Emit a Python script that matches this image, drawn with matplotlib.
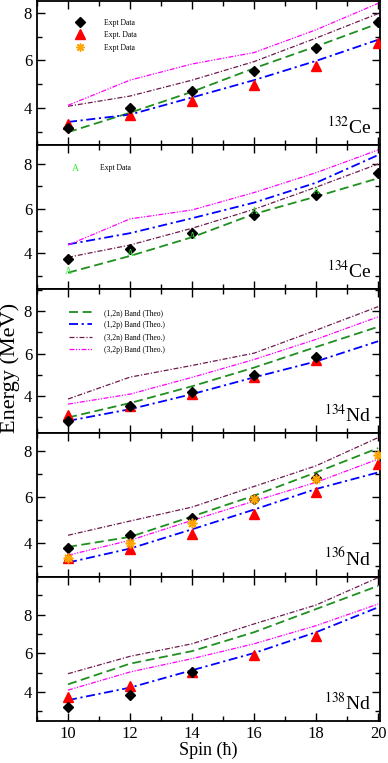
import numpy as np
import matplotlib.pyplot as plt
from matplotlib.ticker import MultipleLocator

plt.rcParams['font.family'] = ['Liberation Serif', 'DejaVu Serif']
plt.rcParams['mathtext.fontset'] = 'stix'

spin = [10, 12, 14, 16, 18, 20]

# 132Ce
ce132_diamond = [3.15, 4.01, 4.73, 5.57, 6.54, 7.63]
ce132_tri = [3.34, 3.69, 4.28, 4.98, 5.78, 6.73]
ce132_12n = [2.98, 3.80, 4.68, 5.67, 6.59, 7.55]
ce132_12p = [3.41, 3.72, 4.44, 5.17, 5.98, 6.87]
ce132_32n = [4.07, 4.50, 5.17, 5.95, 6.94, 7.97]
ce132_32p = [4.11, 5.17, 5.85, 6.33, 7.29, 8.40]

# 134Ce
ce134_diamond = [3.73, 4.19, 4.91, 5.72, 6.61, 7.61]
ce134_A = [3.18, 3.97, 4.75, 5.87, 6.76]
ce134_12n = [3.13, 3.88, 4.72, 5.76, 6.54, 7.36]
ce134_12p = [4.40, 4.90, 5.57, 6.27, 7.16, 8.40]
ce134_32n = [3.82, 4.37, 5.12, 5.97, 6.96, 8.00]
ce134_32p = [4.37, 5.54, 5.94, 6.72, 7.61, 8.63]

# 134Nd
nd134_diamond = [2.83, 3.54, 4.21, 5.00, 5.83]
nd134_tri = [3.10, 3.51, 4.09, 4.88, 5.72]
nd134_12n = [2.99, 3.67, 4.46, 5.34, 6.31, 7.26]
nd134_12p = [2.83, 3.38, 4.09, 4.88, 5.63, 6.58]
nd134_32n = [3.86, 4.89, 5.44, 6.02, 7.10, 8.21]
nd134_32p = [3.62, 4.09, 4.88, 5.72, 6.67, 7.73]

# 136Nd
nd136_diamond = [3.78, 4.32, 5.07, 5.88, 6.80]
nd136_tri = [3.34, 3.74, 4.39, 5.26, 6.22, 7.42]
nd136_star = [3.31, 4.00, 4.87, 5.88, 6.77, 7.81]
nd136_12n = [3.81, 4.25, 5.14, 6.05, 7.06, 8.12]
nd136_12p = [3.13, 3.74, 4.58, 5.44, 6.34, 7.06]
nd136_32n = [4.32, 4.94, 5.55, 6.45, 7.35, 8.58]
nd136_32p = [3.45, 4.10, 4.97, 5.81, 6.63, 7.64]

# 138Nd
nd138_diamond = [3.19, 3.83, 5.03]
nd138_tri = [3.74, 4.29, 5.03, 5.89, 6.88]
nd138_12n = [4.39, 5.46, 6.11, 7.09, 8.29, 9.49]
nd138_12p = [3.57, 4.22, 5.12, 6.01, 7.09, 8.38]
nd138_32n = [4.94, 5.84, 6.49, 7.52, 8.50, 9.92]
nd138_32p = [4.09, 5.03, 5.72, 6.49, 7.43, 8.55]

labels = ['132', '134', '134', '136', '138']
elems = ['Ce', 'Ce', 'Nd', 'Nd', 'Nd']
ylims = [(2.44, 8.5), (2.4, 8.85), (2.26, 9.04), (2.5, 8.78), (2.49, 9.95)]

theo = [
    (ce132_12n, ce132_12p, ce132_32n, ce132_32p),
    (ce134_12n, ce134_12p, ce134_32n, ce134_32p),
    (nd134_12n, nd134_12p, nd134_32n, nd134_32p),
    (nd136_12n, nd136_12p, nd136_32n, nd136_32p),
    (nd138_12n, nd138_12p, nd138_32n, nd138_32p),
]
diamonds = [ce132_diamond, ce134_diamond, nd134_diamond, nd136_diamond, nd138_diamond]
tris = [ce132_tri, None, nd134_tri, nd136_tri, nd138_tri]

green = '#1f8f1f'
blue = '#0000ff'
maroon = '#6e1a4e'
magenta = '#ff00ff'
orange = '#ffa500'
lime = '#33ee33'

fig = plt.figure(figsize=(3.88, 7.63), dpi=100)
left, right = 37 / 388, 380 / 388
top, bottom = 1 - 1 / 763, 1 - 721 / 763
h = (top - bottom) / 5

axes = []
for i in range(5):
    ax = fig.add_axes([left, top - (i + 1) * h, right - left, h])
    axes.append(ax)
    t12n, t12p, t32n, t32p = theo[i]
    l1, = ax.plot(spin[:len(t12n)], t12n, color=green, lw=1.3, dashes=(5, 2.5), label='(1,2n) Band (Theo)')
    l2, = ax.plot(spin[:len(t12p)], t12p, color=blue, lw=1.3, dashes=(5, 2, 1.2, 2), label='(1,2p) Band (Theo.)')
    l3, = ax.plot(spin[:len(t32n)], t32n, color=maroon, lw=0.9, dashes=(4, 1.5, 1, 1.5), label='(3,2n) Band (Theo.)')
    l4, = ax.plot(spin[:len(t32p)], t32p, color=magenta, lw=0.9, dashes=(4, 1.2, 1, 1.2, 1, 1.2), label='(3,2p) Band (Theo.)')

    d = diamonds[i]
    m1, = ax.plot(spin[:len(d)], d, 'D', color='black', ms=5, ls='none', label='Expt Data', zorder=5)
    if tris[i] is not None:
        tr = tris[i]
        m2, = ax.plot(spin[:len(tr)], tr, '^', color='red', ms=7, ls='none', label='Expt. Data', zorder=4)
    if i == 3:
        ax.plot(spin[:len(nd136_star)], nd136_star, marker=(8, 2, 0), color=orange, ms=7, mew=1.2,
                ls='none', zorder=6)
    if i == 1:
        for xs, ys in zip(spin, ce134_A):
            ax.text(xs, ys, 'A', color=lime, fontsize=7, ha='center', va='center', zorder=6)

    ax.set_xlim(9, 20.06)
    ax.set_ylim(*ylims[i])
    ax.xaxis.set_major_locator(MultipleLocator(2))
    ax.xaxis.set_minor_locator(MultipleLocator(1))
    ax.yaxis.set_major_locator(MultipleLocator(2))
    ax.yaxis.set_minor_locator(MultipleLocator(1))
    ax.tick_params(which='both', direction='in', top=True, right=True, width=1.0, labelsize=12)
    ax.tick_params(which='major', length=6)
    ax.tick_params(which='minor', length=3.5)
    for s in ax.spines.values():
        s.set_linewidth(1.3)
    if i < 4:
        ax.tick_params(labelbottom=False)
    ax.text(0.975, 0.05, r'$^{%s}$%s' % (labels[i], elems[i]), transform=ax.transAxes,
            ha='right', va='bottom', fontsize=14)

    if i == 0:
        star = ax.plot([], [], marker=(8, 2, 0), color=orange, ms=6, ls='none', label='Expt Data')[0]
        ax.legend(handles=[m1, m2, star], loc='upper left', frameon=False, fontsize=5.5,
                  bbox_to_anchor=(0.083, 0.926), handlelength=2.0, handletextpad=2.15,
                  labelspacing=0.6)
    if i == 1:
        ax.text(0.111, 0.84, 'A', color=lime, fontsize=7, transform=ax.transAxes, ha='center', va='center')
        ax.text(0.184, 0.84, 'Expt Data', fontsize=5.5, transform=ax.transAxes, va='center')
    if i == 2:
        ax.legend(handles=[l1, l2, l3, l4], loc='upper left', frameon=False, fontsize=5.5,
                  bbox_to_anchor=(0.073, 0.911), handlelength=3.0, handletextpad=1.57,
                  labelspacing=0.57)

axes[4].set_xlabel('Spin (ħ)', fontsize=13, labelpad=0)
fig.text(0.026, 1 - 368 / 763, 'Energy (MeV)', rotation=90, ha='center', va='center', fontsize=16)

fig.savefig('out.png', dpi=100)
